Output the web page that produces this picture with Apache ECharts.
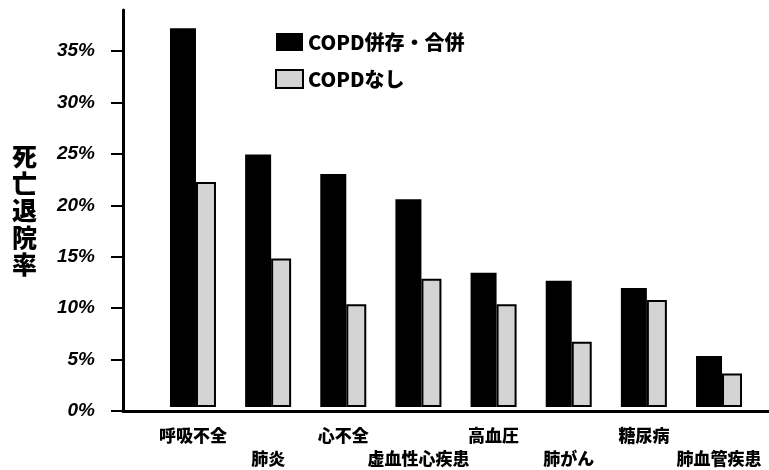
<!DOCTYPE html>
<html><head><meta charset="utf-8">
<script src="https://cdn.jsdelivr.net/npm/echarts@6/dist/echarts.min.js"></script>
<style>html,body{margin:0;padding:0;background:#fff}#c{width:769px;height:470px}</style>
</head><body><div id="c"></div>
<script>
const categories = ['呼吸不全','肺炎','心不全','虚血性心疾患','高血圧','肺がん','糖尿病','肺血管疾患'];
const copdValues = [37.2, 24.8, 22.9, 20.4, 13.2, 12.4, 11.7, 5.0];
const noCopdValues = [22.1, 14.6, 10.1, 12.6, 10.1, 6.4, 10.5, 3.3];
const yTicks = [0, 5, 10, 15, 20, 25, 30, 35];
const seriesNames = ['COPD併存・合併', 'COPDなし'];

const chart = echarts.init(document.getElementById('c'), null, {renderer: 'canvas'});
const jp = '"Noto Sans CJK JP", "Noto Sans", sans-serif';
chart.setOption({
  animation: false,
  backgroundColor: '#fff',
  legend: {
    orient: 'vertical', left: 275, top: 32, padding: 0, itemWidth: 27, itemHeight: 18, itemGap: 17,
    icon: 'rect',
    textStyle: {fontFamily: jp, fontWeight: 900, fontSize: 20, color: '#000'},
    data: seriesNames
  },
  grid: [
    {left: 155.4, right: 12.4, top: 10, bottom: 59},
    {left: 123, right: 0, top: 10, bottom: 59}
  ],
  xAxis: [
    {type: 'category', gridIndex: 0, data: categories,
     axisLine: {show: false}, axisTick: {show: false},
     axisLabel: {margin: 17, fontFamily: jp, fontWeight: 900, fontSize: 17, color: '#000', lineHeight: 23, interval: 0,
       formatter: (v, i) => (i % 2 ? '\n' + v : v)}},
    {type: 'value', gridIndex: 1, min: 0, max: 1, show: true,
     axisLine: {show: true, onZero: false, lineStyle: {color: '#000', width: 3}},
     axisTick: {show: false}, axisLabel: {show: false}, splitLine: {show: false}}
  ],
  yAxis: [
    {type: 'value', gridIndex: 0, min: 0, max: 39, show: false, splitLine: {show: false}},
    {type: 'value', gridIndex: 1, min: 0, max: 39, interval: 5,
     name: '死\n亡\n退\n院\n率', nameLocation: 'middle', nameRotate: 0, nameGap: 86,
     nameTextStyle: {fontFamily: jp, fontWeight: 900, fontSize: 25, lineHeight: 27, color: '#000', align: 'right'},
     axisLine: {show: true, onZero: false, lineStyle: {color: '#000', width: 3}},
     axisTick: {show: true, length: 12, customValues: yTicks, lineStyle: {color: '#000', width: 2}},
     axisLabel: {customValues: yTicks, margin: 28, formatter: '{value}%', fontFamily: '"Liberation Sans", Arial, sans-serif',
       fontWeight: 'bold', fontStyle: 'italic', fontSize: 19, color: '#000'},
     splitLine: {show: false}}
  ],
  series: [
    {name: seriesNames[0], type: 'bar', xAxisIndex: 0, yAxisIndex: 0, data: copdValues,
     barWidth: 26, barGap: 0, itemStyle: {color: '#000'}},
    {name: seriesNames[1], type: 'bar', xAxisIndex: 0, yAxisIndex: 0, data: noCopdValues,
     barWidth: 20, barGap: 0, itemStyle: {color: '#d4d4d4', borderColor: '#000', borderWidth: 2}}
  ]
});
</script></body></html>
